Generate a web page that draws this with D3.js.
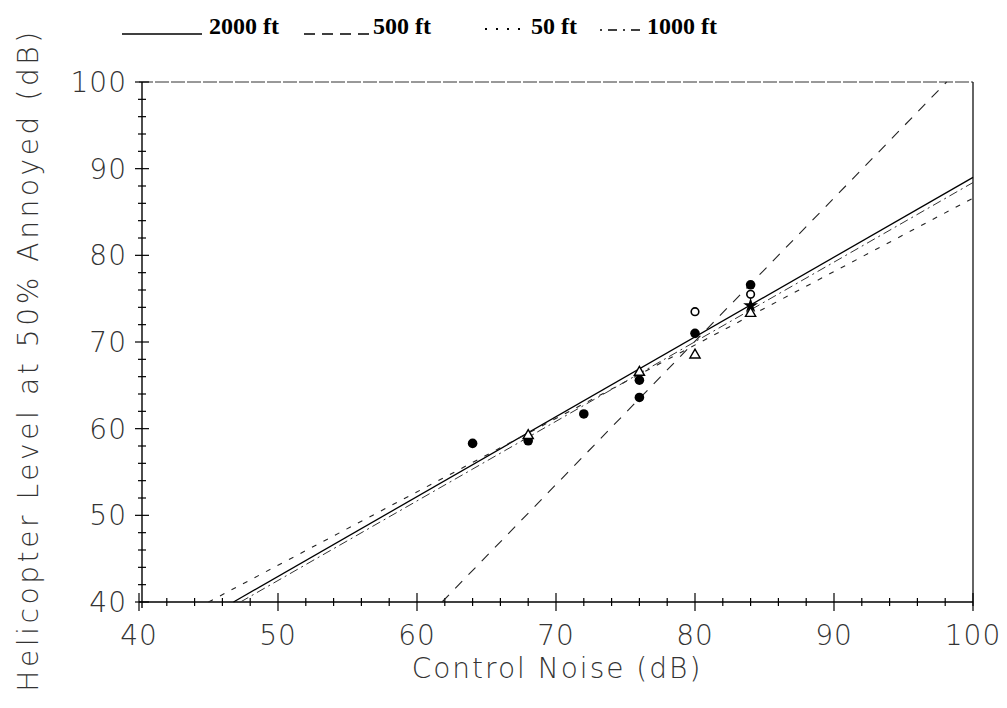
<!DOCTYPE html>
<html>
<head>
<meta charset="utf-8">
<script src="https://cdn.jsdelivr.net/npm/d3@7"></script>
<style>
  html, body { margin: 0; padding: 0; background: #fff; }
  svg { display: block; }
  .tick-label { font-family: 'DejaVu Sans ExtraLight', 'DejaVu Sans', sans-serif; font-weight: 200; fill: #333; }
  .legend-text { font-family: 'Liberation Serif', 'Times New Roman', serif; font-weight: bold; fill: #000; }
</style>
</head>
<body>
<svg id="chart" width="1007" height="708"></svg>
<script>
// ---- data ----
const xTicks = [40, 50, 60, 70, 80, 90, 100];
const yTicks = [40, 50, 60, 70, 80, 90, 100];
const xTitle = "Control Noise (dB)";
const yTitle = "Helicopter Level at 50% Annoyed (dB)";

// regression lines (start / end in data units)
const seriesNames = ["2000 ft", "500 ft", "50 ft", "1000 ft"];
const lineStartX = [46.8, 61.8, 45.0, 47.3];
const lineStartY = [40, 40, 40, 40];
const lineEndX   = [100, 98.1, 100, 100];
const lineEndY   = [89.0, 100, 86.6, 88.4];

// observed points, grouped by marker
const filledCircleX = [64, 68, 72, 76, 76, 80, 84];
const filledCircleY = [58.3, 58.6, 61.7, 63.6, 65.6, 71.0, 76.6];
const openCircleX = [80, 84];
const openCircleY = [73.5, 75.5];
const openTriangleX = [68, 76, 80, 84];
const openTriangleY = [59.2, 66.5, 68.5, 73.3];
const starX = [84];
const starY = [74.2];

// ---- layout ----
const svg = d3.select("#chart");
const x = d3.scaleLinear().domain([40, 100]).range([139, 973]);
const y = d3.scaleLinear().domain([40, 100]).range([602, 82]);

const lineStyles = [
  { dash: null, width: 1.3, color: "#000" },
  { dash: "10,9", width: 1.1, color: "#222" },
  { dash: "5,8", width: 1.1, color: "#222" },
  { dash: "9,4,2,4", width: 1.0, color: "#333" }
];

// frame: top and right
svg.append("line").attr("x1", x(40)).attr("x2", x(100)).attr("y1", y(100)).attr("y2", y(100))
  .attr("stroke", "#333").attr("stroke-width", 1).attr("stroke-dasharray", "14,2");
svg.append("line").attr("x1", x(100)).attr("x2", x(100)).attr("y1", y(100)).attr("y2", y(40) + 4)
  .attr("stroke", "#111").attr("stroke-width", 1.3);

// minor tick values
const minorX = d3.range(40, 100.01, 2);
const minorY = d3.range(40, 100.01, 2);

// x axis
const gx = svg.append("g").attr("transform", `translate(0,${y(40)})`);
gx.append("line").attr("x1", x(40)).attr("x2", x(100)).attr("stroke", "#000").attr("stroke-width", 1.4);
gx.selectAll("line.minor").data(minorX).join("line").attr("class", "minor")
  .attr("x1", d => x(d)).attr("x2", d => x(d))
  .attr("y1", d => (d % 10 === 0 ? -9 : -4)).attr("y2", d => (d % 10 === 0 ? 9 : 4))
  .attr("stroke", "#000").attr("stroke-width", 1.2);
gx.selectAll("text").data(xTicks).join("text").attr("class", "tick-label")
  .attr("x", d => x(d)).attr("y", 43).attr("text-anchor", "middle")
  .style("font-size", "28px").style("letter-spacing", "1px").text(d => d);

// y axis
const gy = svg.append("g").attr("transform", `translate(${x(40) + 3},0)`);
gy.append("line").attr("y1", y(100)).attr("y2", y(40) + 6).attr("stroke", "#000").attr("stroke-width", 1.4);
gy.selectAll("line.minor").data(minorY).join("line").attr("class", "minor")
  .attr("y1", d => y(d)).attr("y2", d => y(d))
  .attr("x1", d => (d % 10 === 0 ? -7 : -4)).attr("x2", d => (d % 10 === 0 ? 7 : 4))
  .attr("stroke", "#000").attr("stroke-width", 1.2);
gy.selectAll("text").data(yTicks).join("text").attr("class", "tick-label")
  .attr("x", -15).attr("y", d => y(d) + 10).attr("text-anchor", "end")
  .style("font-size", "28px").style("letter-spacing", "1px").text(d => d);

// axis titles
svg.append("text").attr("class", "tick-label")
  .attr("x", 557).attr("y", 678).attr("text-anchor", "middle")
  .style("font-size", "28px").style("letter-spacing", "2px").text(xTitle);
svg.append("text").attr("class", "tick-label")
  .attr("transform", "translate(38,360) rotate(-90)").attr("text-anchor", "middle")
  .style("font-size", "28px").style("letter-spacing", "3.6px").text(yTitle);

// regression lines
const g = svg.append("g");
seriesNames.forEach((name, i) => {
  const s = lineStyles[i];
  const l = g.append("line")
    .attr("x1", x(lineStartX[i])).attr("y1", y(lineStartY[i]))
    .attr("x2", x(lineEndX[i])).attr("y2", y(lineEndY[i]))
    .attr("stroke", s.color).attr("stroke-width", s.width);
  if (s.dash) l.attr("stroke-dasharray", s.dash);
});

// markers
const pts = svg.append("g");
pts.selectAll("circle.f").data(d3.zip(filledCircleX, filledCircleY)).join("circle").attr("class", "f")
  .attr("cx", d => x(d[0])).attr("cy", d => y(d[1])).attr("r", 4.8).attr("fill", "#000");
pts.selectAll("circle.o").data(d3.zip(openCircleX, openCircleY)).join("circle").attr("class", "o")
  .attr("cx", d => x(d[0])).attr("cy", d => y(d[1])).attr("r", 3.8)
  .attr("fill", "#fff").attr("stroke", "#000").attr("stroke-width", 1.6);
const tri = d3.symbol().type(d3.symbolTriangle).size(45);
pts.selectAll("path.t").data(d3.zip(openTriangleX, openTriangleY)).join("path").attr("class", "t")
  .attr("d", tri).attr("transform", d => `translate(${x(d[0])},${y(d[1])})`)
  .attr("fill", "#fff").attr("stroke", "#000").attr("stroke-width", 1.4);
const star = d3.symbol().type(d3.symbolStar).size(70);
pts.selectAll("path.s").data(d3.zip(starX, starY)).join("path").attr("class", "s")
  .attr("d", star).attr("transform", d => `translate(${x(d[0])},${y(d[1])})`)
  .attr("fill", "#000");

// legend
const legendLineX1 = [122, 304, 485, 600];
const legendLineX2 = [202, 370, 527, 643];
const legendLineY  = [34, 34, 29, 30];
const legendTextX  = [209, 373, 531, 647];
const legendDash = [null, "11,7", "2,9", "2,6,9,6"];
const lg = svg.append("g");
seriesNames.forEach((name, i) => {
  const l = lg.append("line")
    .attr("x1", legendLineX1[i]).attr("x2", legendLineX2[i])
    .attr("y1", legendLineY[i]).attr("y2", legendLineY[i])
    .attr("stroke", "#000").attr("stroke-width", i === 2 ? 2 : 1.6);
  if (legendDash[i]) l.attr("stroke-dasharray", legendDash[i]);
  lg.append("text").attr("class", "legend-text")
    .attr("x", legendTextX[i]).attr("y", 34)
    .style("font-size", "24px").text(name);
});
</script>
</body>
</html>
